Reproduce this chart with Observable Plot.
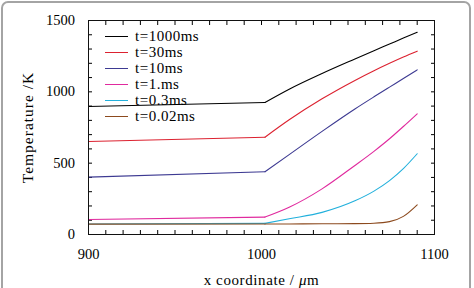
<!DOCTYPE html>
<html>
<head>
<meta charset="utf-8">
<script src="https://cdn.jsdelivr.net/npm/d3@7"></script>
<script src="https://cdn.jsdelivr.net/npm/@observablehq/plot@0.6"></script>
<style>
  body { margin: 0; background: #fff; }
  #wrap { position: relative; width: 474px; height: 288px; overflow: hidden; background: #fff; }
  #border { position: absolute; left: 1px; top: 1px; width: 470px; height: 320px; box-sizing: border-box;
            border: 2px solid #a4a4a4; border-radius: 7px; pointer-events: none; }
  #legend { position: absolute; left: 105px; top: 28px; font-family: "Liberation Serif"; 
            font-size: 15px; letter-spacing: 0.5px; color: #000; }
  .row { display: flex; align-items: center; height: 16.1px; }
  .sw { width: 23px; height: 0; border-top: 1.2px solid; margin-right: 7px; }
  svg text { font-family: "Liberation Serif" !important; }
</style>
</head>
<body>
<div id="wrap"><div id="border"></div><div id="legend"></div></div>
<script>
// ---- data ----
const series = ["t=1000ms", "t=30ms", "t=10ms", "t=1.ms", "t=0.3ms", "t=0.02ms"];
const colors = ["#000000", "#dc2230", "#3d3a92", "#e02a9e", "#22b0dc", "#8c4a1e"];
const xs = [900, 1002, 1016, 1035, 1054, 1065, 1074, 1082, 1090];
const T1000 = [897, 925, 1018, 1128, 1230, 1288, 1335, 1377, 1418];
const T30   = [652, 682, 804, 951, 1080, 1148, 1200, 1244, 1285];
const T10   = [402, 440, 560, 723, 880, 965, 1033, 1093, 1154];
const T1    = [105, 122, 191, 320, 484, 583, 671, 757, 846];
const T03   = [74, 78, 110, 155, 236, 304, 378, 462, 566];
const T002  = [73, 74, 74, 75, 76, 79, 90, 127, 208];
const kinkX = 1002;
const xMinorTicks = d3.range(900, 1101, 10);
const xLabelTicks = [900, 1000, 1100];
const yMinorTicks = d3.range(0, 1501, 100);
const yLabelTicks = [0, 500, 1000, 1500];

const values = [T1000, T30, T10, T1, T03, T002];
const data = series.flatMap((s, i) => xs.map((x, j) => ({series: s, x, T: values[i][j]})));
const left = data.filter(d => d.x <= kinkX);
const right = data.filter(d => d.x >= kinkX);

const font = "Liberation Serif";
const chart = Plot.plot({
  width: 474,
  height: 288,
  marginLeft: 88,
  marginRight: 40,
  marginTop: 20,
  marginBottom: 54,
  style: {fontFamily: font, fontSize: "14.5px", color: "#000", background: "transparent"},
  x: {domain: [900, 1100]},
  y: {domain: [0, 1500]},
  color: {domain: series, range: colors},
  marks: [
    Plot.axisX({ticks: xMinorTicks, tickSize: -4, tickFormat: () => "", label: null}),
    Plot.axisX({anchor: "top", ticks: xMinorTicks, tickSize: -4, tickFormat: () => "", label: null}),
    Plot.axisX({ticks: xLabelTicks, tickSize: 0, tickPadding: 14, tickFormat: d => String(d),
                fontFamily: font, fontSize: 14.5, label: "x coordinate / μm",
                labelAnchor: "center", labelOffset: 50, labelArrow: "none"}),
    Plot.axisY({ticks: yMinorTicks, tickSize: -4, tickFormat: () => "", label: null}),
    Plot.axisY({anchor: "right", ticks: yMinorTicks, tickSize: -4, tickFormat: () => "", label: null}),
    Plot.axisY({ticks: yLabelTicks, tickSize: 0, tickPadding: 13.5, tickFormat: d => String(d),
                fontFamily: font, fontSize: 14.5, label: "Temperature /K",
                labelAnchor: "center", labelOffset: 67, labelArrow: "none"}),
    Plot.line(left, {x: "x", y: "T", z: "series", stroke: "series", strokeWidth: 1.1, curve: "linear"}),
    Plot.line(right, {x: "x", y: "T", z: "series", stroke: "series", strokeWidth: 1.1, curve: "monotone-x"}),
    Plot.frame({stroke: "#111", strokeWidth: 1})
  ]
});

// axis label styling
chart.querySelectorAll("text").forEach(t => {
  const s = t.textContent;
  if (s.includes("x coordinate")) {
    t.setAttribute("letter-spacing", "0.6");
    t.style.fontSize = "15px";
    t.innerHTML = "x coordinate / <tspan font-style='italic'>μ</tspan>m";
  } else if (s.includes("Temperature")) {
    t.setAttribute("letter-spacing", "1");
    t.style.fontSize = "15.5px";
  }
});
document.getElementById("wrap").prepend(chart);

const legend = document.getElementById("legend");
series.forEach((s, i) => {
  const row = document.createElement("div");
  row.className = "row";
  const sw = document.createElement("span");
  sw.className = "sw";
  sw.style.borderTopColor = colors[i];
  const lab = document.createElement("span");
  lab.textContent = s;
  row.append(sw, lab);
  legend.append(row);
});
</script>
</body>
</html>
